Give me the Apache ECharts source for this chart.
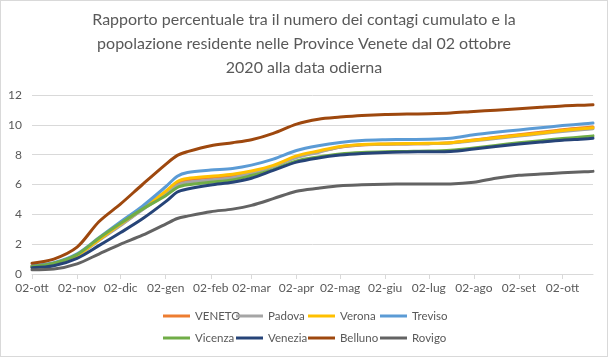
<!DOCTYPE html>
<html>
<head>
<meta charset="utf-8">
<script src="https://cdn.jsdelivr.net/npm/echarts@6/dist/echarts.min.js"></script>
<style>
html,body{margin:0;padding:0;background:#fff;}
#wrap{position:relative;width:608px;height:357px;}
#chart{position:absolute;left:0;top:0;width:608px;height:357px;}
#frame{position:absolute;left:0;top:0;width:608px;height:357px;box-sizing:border-box;border:1px solid #D9D9D9;pointer-events:none;}
</style>
</head>
<body>
<div id="wrap"><div id="chart"></div><div id="frame"></div></div>
<script>
const dates = ['2020-10-02','2020-10-17','2020-11-02','2020-11-17','2020-12-02','2020-12-17',
  '2021-01-02','2021-01-10','2021-01-17','2021-02-02','2021-02-17','2021-03-02','2021-03-17',
  '2021-04-02','2021-04-17','2021-05-02','2021-05-17','2021-06-02','2021-06-17','2021-07-02',
  '2021-07-17','2021-08-02','2021-08-17','2021-09-02','2021-09-17','2021-10-02','2021-10-17','2021-10-23'];

const veneto  = [0.5,0.7,1.25,2.3,3.3,4.35,5.45,6.1,6.3,6.46,6.58,6.82,7.22,7.85,8.2,8.5,8.65,8.7,8.72,8.74,8.8,8.98,9.16,9.33,9.5,9.67,9.8,9.86];
const padova  = [0.48,0.66,1.2,2.25,3.25,4.3,5.35,5.95,6.15,6.3,6.45,6.75,7.2,7.8,8.15,8.52,8.66,8.7,8.72,8.74,8.78,8.93,9.08,9.25,9.4,9.56,9.69,9.74];
const verona  = [0.5,0.7,1.25,2.3,3.35,4.4,5.55,6.2,6.4,6.55,6.68,6.9,7.28,7.92,8.25,8.55,8.68,8.72,8.75,8.76,8.8,8.97,9.13,9.3,9.45,9.62,9.75,9.8];
const treviso = [0.55,0.75,1.35,2.43,3.5,4.55,5.85,6.55,6.8,6.97,7.08,7.3,7.7,8.28,8.6,8.82,8.95,9.0,9.02,9.03,9.1,9.33,9.5,9.66,9.8,9.95,10.07,10.12];
const vicenza = [0.5,0.72,1.3,2.4,3.4,4.35,5.25,5.8,5.98,6.15,6.3,6.6,7.0,7.58,7.85,8.05,8.15,8.2,8.22,8.24,8.3,8.45,8.62,8.8,8.94,9.08,9.2,9.26];
const venezia = [0.42,0.55,1.05,1.9,2.78,3.7,4.85,5.5,5.7,5.97,6.15,6.42,6.95,7.5,7.78,7.97,8.08,8.15,8.18,8.2,8.22,8.38,8.55,8.72,8.85,8.97,9.05,9.1];
const belluno = [0.72,1.0,1.8,3.5,4.7,6.0,7.35,7.95,8.2,8.6,8.8,9.0,9.43,10.05,10.38,10.52,10.63,10.7,10.72,10.75,10.8,10.9,10.98,11.08,11.18,11.27,11.32,11.34];
const rovigo  = [0.28,0.33,0.68,1.34,2.0,2.6,3.35,3.72,3.88,4.18,4.35,4.6,5.05,5.55,5.75,5.92,5.98,6.02,6.03,6.03,6.04,6.15,6.42,6.62,6.7,6.78,6.85,6.88];

const tickDates  = ['2020-10-02','2020-11-02','2020-12-02','2021-01-02','2021-02-02','2021-03-02','2021-04-02',
  '2021-05-02','2021-06-02','2021-07-02','2021-08-02','2021-09-02','2021-10-02'];
const tickLabels = ['02-ott','02-nov','02-dic','02-gen','02-feb','02-mar','02-apr','02-mag','02-giu','02-lug','02-ago','02-set','02-ott'];

const seriesNames  = ['VENETO','Padova','Verona','Treviso','Vicenza','Venezia','Belluno','Rovigo'];
const seriesValues = [veneto, padova, verona, treviso, vicenza, venezia, belluno, rovigo];
const seriesColors = ['#ED7D31','#A5A5A5','#FFC000','#5B9BD5','#70AD47','#264478','#9E480E','#636363'];

// convert a date string to a day number counted from the first date
function dayNum(s){
  const p = s.split('-').map(Number);
  return Math.round(Date.UTC(p[0], p[1]-1, p[2]) / 86400000);
}
const day0 = dayNum(dates[0]);
const dateDays = dates.map(d => dayNum(d) - day0);
const tickDays = tickDates.map(d => dayNum(d) - day0);

const FONT = 'Lato';
const TXT = '#595959';

const chart = echarts.init(document.getElementById('chart'), null, {renderer:'canvas'});

const legendCols = [['VENETO','Vicenza'],['Padova','Venezia'],['Verona','Belluno'],['Treviso','Rovigo']];
const legendLeft = [163, 236, 308, 380];

chart.setOption({
  animation: false,
  backgroundColor: '#ffffff',
  title: {
    text: 'Rapporto percentuale tra il numero dei contagi cumulato e la\npopolazione residente nelle Province Venete dal 02 ottobre\n2020 alla data odierna',
    left: 'center',
    top: 8,
    padding: 0,
    textStyle: {fontFamily: FONT, fontSize: 16, fontWeight: 'normal', color: TXT, lineHeight: 24}
  },
  legend: legendCols.map((d, i) => ({
    data: d,
    orient: 'vertical',
    left: legendLeft[i],
    top: 309,
    itemGap: 8,
    itemWidth: 27,
    itemHeight: 3,
    icon: 'rect',
    padding: 0,
    selectedMode: false,
    textStyle: {fontFamily: FONT, fontSize: 11.5, color: TXT, lineHeight: 14}
  })),
  grid: {left: 32, right: 15, top: 95, bottom: 83, containLabel: false},
  xAxis: {
    type: 'value',
    min: 0,
    max: dateDays[dateDays.length-1],
    axisLine: {show: true, onZero: false, lineStyle: {color: '#D9D9D9', width: 1}},
    axisTick: {show: true, customValues: tickDays, length: 5, lineStyle: {color: '#D9D9D9'}},
    splitLine: {show: false},
    axisLabel: {
      customValues: tickDays,
      color: TXT, fontFamily: FONT, fontSize: 12, margin: 8,
      hideOverlap: false,
      formatter: function(v){
        const i = tickDays.indexOf(Math.round(v));
        return i >= 0 ? tickLabels[i] : '';
      }
    }
  },
  yAxis: {
    type: 'value',
    min: 0, max: 12, interval: 2,
    axisLine: {show: false},
    axisTick: {show: false},
    splitLine: {show: true, lineStyle: {color: '#D9D9D9', width: 1}},
    axisLabel: {color: TXT, fontFamily: FONT, fontSize: 12, margin: 10}
  },
  series: seriesNames.map((n, i) => ({
    name: n,
    type: 'line',
    symbol: 'none',
    showSymbol: false,
    smooth: 0.3,
    color: seriesColors[i],
    lineStyle: {color: seriesColors[i], width: 3, cap: 'round', join: 'round'},
    data: dateDays.map((t, j) => [t, seriesValues[i][j]])
  }))
});
</script>
</body>
</html>
